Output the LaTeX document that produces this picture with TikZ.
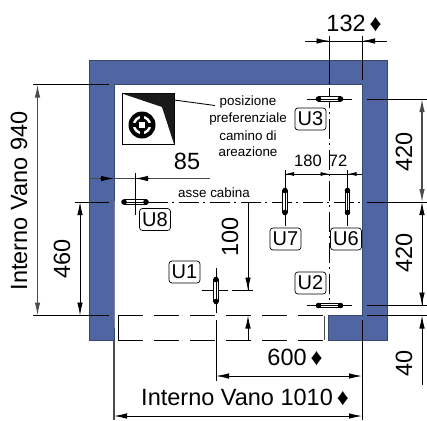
\documentclass[tikz,border=0pt]{standalone}
\usepackage{fontspec}
\setmainfont{Liberation Sans}
\usetikzlibrary{arrows.meta}
\definecolor{wall}{RGB}{80,102,163}
\colorlet{border}{black}
\colorlet{dimgrey}{black!70}
\newcommand\fontpt[1]{\fontsize{#1}{#1}\selectfont}
\begin{document}
\begin{tikzpicture}[x=1pt, y=-1pt, line width=.8pt, >={Latex[length=13pt,width=5.5pt]}]
    \tikzset{
        dimline/.style={border, line width=.85pt},
        greyline/.style={dimgrey, line width=1.1pt},
        small tip/.style={>={Latex[length=9pt,width=4pt]}},
        axisline/.style={border, line width=.85pt, dash pattern=on 20pt off 4pt on 1.5pt off 5.5pt},
        doorline/.style={border, line width=.85pt, dash pattern=on 25pt off 11pt},
        bigtext/.style={font=\fontpt{23.5}, inner sep=0pt},
        midtext/.style={font=\fontpt{16.5}, inner sep=0pt},
        smalltext/.style={font=\fontpt{13.4}, inner sep=0pt},
        userbox/.style={draw=border, rounded corners=3, line width=.7pt, font=\fontpt{20},
            minimum width=31pt, minimum height=22pt, inner sep=0pt, fill=white},
        slotbody/.style={draw=border, line width=.7pt, fill=white},
        slotend/.style={fill=border},
    }

    \useasboundingbox (0, 0) rectangle (427, 420);

    % Walls
    \coordinate (wall-tl) at (89.5, 60);
    \coordinate (wall-br) at (387, 340);
    \coordinate (room-tl) at (114, 84.5);
    \coordinate (room-tr) at (362.5, 84.5);
    \coordinate (room-bl) at (114, 315.5);
    \coordinate (room-br) at (362.5, 315.5);
    \coordinate (door-r) at (328, 315.5);

    \fill[wall, draw=wall!70!black, line width=.8pt]
        (wall-tl) -| (wall-br) -| (door-r) -- (room-br)
        -- (room-tr) -- (room-tl) -- (room-bl) -- (114, 340)
        -- (89.5, 340) -- cycle;

    % Door
    \draw[doorline] (118, 315.5) -- (324, 315.5);
    \draw[doorline] (118, 340) -- (324, 340);
    \draw[dimline] (118, 315.5) -- (118, 340);
    \draw[greyline] (324.5, 315.5) -- (324.5, 340);

    % Chimney
    \draw[border, fill=white] (122, 93.5) rectangle (174, 144.5);
    \fill[black!90] (122, 93.5) -- (174, 93.5) -- (174, 144) -- (162, 107) -- cycle;
    \coordinate (fan) at (142, 125);
    \fill[border] (fan) circle (13.5);
    \draw[white, line width=2.4pt] (fan) circle (8);
    \draw[border, line width=3.5pt] (130, 125) -- (154, 125) (142, 113) -- (142, 137);
    \fill[white] (139, 122) rectangle (145, 128);

    \node[smalltext] (chimney-a) at (248, 102.5) {posizione};
    \node[smalltext] (chimney-b) at (248, 119.5) {preferenziale};
    \node[smalltext] (chimney-c) at (248, 136) {camino di};
    \node[smalltext] (chimney-d) at (248, 152) {areazione};
    \coordinate (chimney-end) at (215, 105.5);
    \draw[dimline] (174, 100) -- (chimney-end);

    % Axes
    \coordinate (axis-l) at (148, 202);
    \coordinate (axis-r) at (362, 202);
    \draw[axisline] (axis-l) -- (axis-r);
    \draw[axisline] (329.5, 88) -- (329.5, 300);
    \node[smalltext] (axis-label) at (214, 193) {asse cabina};

    % Guides
    \draw[dimline] (307, 99) -- (352, 99);
    \draw[dimline] (307, 305.5) -- (352, 305.5);
    \draw[dimline] (285, 170) -- (285, 226);
    \draw[dimline] (347.5, 170) -- (347.5, 226);
    \draw[dimline] (216, 268) -- (216, 313);
    \draw[dimline] (202, 290.5) -- (228, 290.5);
    \draw[dimline] (232, 290.5) -- (253, 290.5);
    \foreach \slotx/\sloty in {329.5/99, 329.5/305.5, 135/202} {
        \draw[slotbody] (\slotx - 11, \sloty - 2.2) rectangle (\slotx + 11, \sloty + 2.2);
        \draw[dimline] (\slotx - 11, \sloty) -- (\slotx + 11, \sloty);
        \fill[slotend] (\slotx - 11, \sloty) circle (2.8) (\slotx + 11, \sloty) circle (2.8);
    }
    \foreach \slotx/\sloty in {285/201.5, 347.5/201.5, 216/290.5} {
        \draw[slotbody] (\slotx - 2.2, \sloty - 11) rectangle (\slotx + 2.2, \sloty + 11);
        \draw[dimline] (\slotx, \sloty - 11) -- (\slotx, \sloty + 11);
        \fill[slotend] (\slotx, \sloty - 11) circle (2.8) (\slotx, \sloty + 11) circle (2.8);
    }

    \node[userbox] (u1) at (184.5, 272) {U1};
    \node[userbox] (u2) at (310.5, 283) {U2};
    \node[userbox] (u3) at (310.5, 119) {U3};
    \node[userbox] (u6) at (346, 239) {U6};
    \node[userbox] (u7) at (285.5, 239) {U7};
    \node[userbox] (u8) at (155, 219.5) {U8};

    % Dimensions left
    \draw[dimline] (33, 84.5) -- (109, 84.5);
    \draw[dimline] (33, 315.5) -- (109, 315.5);
    \draw[<->, greyline] (37.5, 84.5) -- (37.5, 315.5);
    \node[bigtext, rotate=90] (inner-depth) at (19, 201) {Interno Vano 940};

    \draw[dimline] (75, 202) -- (109, 202);
    \draw[<->, dimline] (80, 202) -- (80, 315.5);
    \node[bigtext, rotate=90] (axis-depth) at (62, 259) {460};

    \draw[greyline] (89.5, 178.5) -- (210, 178.5);
    \draw[dimline] (135, 173) -- (135, 215);
    \draw[->, dimline] (100, 178.5) -- (114, 178.5);
    \draw[->, dimline] (148, 178.5) -- (135, 178.5);
    \node[bigtext] (axis-side) at (187, 161) {85};

    % Dimensions top
    \draw[dimline] (305, 41) -- (387, 41);
    \draw[dimline] (329.5, 36) -- (329.5, 84);
    \draw[dimline] (362, 36) -- (362, 80);
    \draw[->, dimline] (317, 41) -- (329.5, 41);
    \draw[->, dimline] (375, 41) -- (362, 41);
    \node[bigtext] (top-gap) at (354, 23) {132\,♦};

    \draw[dimline] (285, 174) -- (362, 174);
    \draw[small tip, ->, dimline] (295, 174) -- (285, 174);
    \draw[small tip, ->, dimline] (320, 174) -- (329.5, 174);
    \draw[small tip, ->, dimline] (357, 174) -- (347.5, 174);
    \node[midtext] (offset-a) at (308, 161) {180};
    \node[midtext] (offset-b) at (338, 161) {72};

    % Dimensions right
    \foreach \exty in {99, 202, 305.5, 315.5}
        \draw[dimline] (367, \exty) -- (427, \exty);
    \draw[<->, greyline] (422, 99) -- (422, 202);
    \draw[<-, dimline] (422, 202) -- (422, 305.5);
    \draw[->, dimline] (422, 285) -- (422, 305.5);
    \draw[->, dimline] (422, 385) -- (422, 315.5);
    \node[bigtext, rotate=90] (right-upper) at (404, 152) {420};
    \node[bigtext, rotate=90] (right-lower) at (404, 253) {420};
    \node[bigtext, rotate=90] (right-sill) at (404, 363) {40};

    % Dimension of the guide
    \draw[dimline] (248, 202) -- (248, 290.5);
    \draw[->, dimline] (248, 277) -- (248, 290.5);
    \draw[->, dimline] (248, 340) -- (248, 315.5);
    \node[bigtext, rotate=90] (guide-height) at (230, 237) {100};

    % Dimensions bottom
    \draw[dimline] (216, 320) -- (216, 381);
    \draw[dimline] (362, 320) -- (362, 381);
    \draw[<->, dimline] (216, 376) -- (362, 376);
    \node[bigtext] (door-width) at (295, 357) {600\,♦};

    \draw[greyline] (114, 340) -- (114, 420);
    \draw[dimline] (362, 381) -- (362, 420);
    \draw[<->, dimline] (114, 416) -- (362, 416);
    \node[bigtext] (inner-width) at (245, 397) {Interno Vano 1010\,♦};
\end{tikzpicture}
\end{document}
